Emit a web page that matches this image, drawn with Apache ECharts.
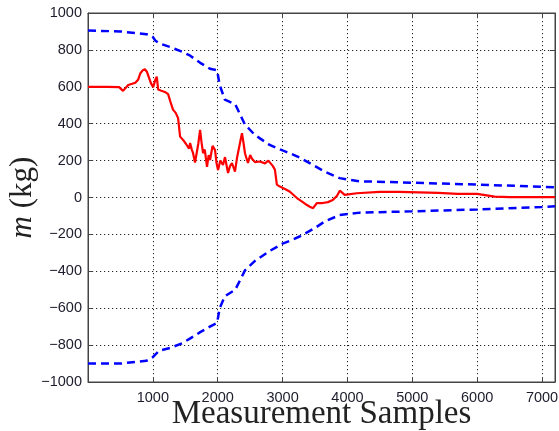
<!DOCTYPE html>
<html>
<head>
<meta charset="utf-8">
<script src="https://cdn.jsdelivr.net/npm/echarts@6/dist/echarts.min.js"></script>
<style>
html,body{margin:0;padding:0;background:#fff}
#Chart{width:559px;height:431px}
</style>
</head>
<body>
<div id="Chart"></div>
<script>
//红线 估计值
var redX=[0,300,480,540,620,730,775,805,840,877,910,940,970,1005,1040,1060,1082,1120,1185,1235,1270,1312,1350,1389,1420,1466,1490,1512,1558,1574,1600,1620,1650,1666,1700,1728,1750,1774,1800,1835,1860,1882,1920,1959,1980,2005,2040,2082,2112,2159,2190,2220,2266,2300,2340,2374,2400,2420,2466,2500,2528,2574,2650,2728,2780,2851,2882,2912,2959,3066,3113,3221,3267,3350,3420,3470,3528,3620,3700,3774,3840,3882,3958,4143,4497,4800,5100,5400,5700,6000,6270,6500,7200]
var redY=[600,600,598,578,610,622,640,672,688,695,680,650,620,598,640,655,585,580,572,560,520,475,460,430,330,312,322,290,265,295,260,240,190,200,290,366,300,240,260,166,230,203,280,257,190,149,200,176,219,133,170,187,140,220,290,349,290,240,187,230,210,192,195,185,200,170,150,70,59,41,31,-3,-14,-35,-50,-58,-30,-30,-25,-14,10,37,14,23,30,30,28,25,20,20,5,2,2]

//蓝色虚线 上下界
var boundX=[0,500,900,960,1000,1040,1100,1270,1450,1570,1730,1880,1990,2030,2110,2270,2420,2570,2800,3000,3110,3270,3500,3650,3880,4190,5000,6000,7000,7200]
var upperY=[905,900,885,880,870,850,835,815,790,770,730,698,690,610,530,505,395,340,285,255,240,215,170,140,105,88,80,70,58,55]
var lowerY=[-900,-900,-885,-875,-865,-850,-830,-815,-790,-765,-730,-700,-680,-600,-535,-500,-395,-345,-290,-250,-235,-210,-165,-130,-95,-82,-75,-65,-52,-48]

var yTicks=[-1000,-800,-600,-400,-200,0,200,400,600,800,1000]

function pairs(xs,ys){
    var out=[]
    for(var i=0;i<xs.length;i++){
        out.push([xs[i],ys[i]])
    }
    return out
}

function drawChar(){
    var myChart=echarts.init(document.getElementById('Chart'))
    var gridLine={show:true,lineStyle:{color:'#222',width:1,type:[1.2,2.8]}}
    var axisLine={show:true,onZero:false,lineStyle:{color:'#444',width:1}}
    var tickIn={show:true,inside:true,length:5,lineStyle:{color:'#444'}}
    var labelFont={fontFamily:'Liberation Sans',fontSize:14.5,color:'#1c1c2c'}
    var option={
        animation:false,
        grid:{left:88,top:13,right:4,bottom:49,outerBoundsMode:'none',containLabel:false,
            show:true,borderColor:'#444',borderWidth:1},
        xAxis:[{
            type:'value',min:0,max:7200,interval:1000,
            axisLine:axisLine,axisTick:tickIn,splitLine:gridLine,
            axisLabel:Object.assign({margin:8,showMinLabel:false,showMaxLabel:false,
                formatter:function(v){return String(v)}},labelFont),
            name:'Measurement Samples',nameLocation:'middle',nameGap:16,nameMoveOverlap:false,
            nameTextStyle:{fontFamily:'Liberation Serif',fontSize:33,color:'#222'}
        },{
            type:'value',position:'top',min:0,max:7200,interval:1000,
            axisLine:axisLine,axisTick:tickIn,splitLine:{show:false},axisLabel:{show:false}
        }],
        yAxis:[{
            type:'value',min:-1000,max:1000,interval:200,
            axisLine:axisLine,axisTick:tickIn,splitLine:gridLine,
            axisLabel:Object.assign({margin:6,formatter:function(v){
                return yTicks.indexOf(v)<0?'':String(v).replace('-','\u2212')
            }},labelFont),
            name:'{i|m}{n| (kg)}',nameLocation:'middle',nameGap:50,nameRotate:90,nameMoveOverlap:false,
            nameTextStyle:{
                color:'#222',
                rich:{
                    i:{fontFamily:'Liberation Serif',fontStyle:'italic',fontSize:31,color:'#222'},
                    n:{fontFamily:'Liberation Serif',fontSize:31,color:'#222'}
                }
            }
        },{
            type:'value',position:'right',min:-1000,max:1000,interval:200,
            axisLine:axisLine,axisTick:tickIn,splitLine:{show:false},axisLabel:{show:false}
        }],
        series:[{
            type:'line',data:pairs(boundX,upperY),showSymbol:false,symbol:'none',
            lineStyle:{color:'#0000ff',width:2.5,type:[8,5]}
        },{
            type:'line',data:pairs(boundX,lowerY),showSymbol:false,symbol:'none',
            lineStyle:{color:'#0000ff',width:2.5,type:[8,5]}
        },{
            type:'line',data:pairs(redX,redY),showSymbol:false,symbol:'none',
            lineStyle:{color:'#ff0000',width:2.2}
        }]
    }
    myChart.setOption(option)
}

drawChar()
</script>
</body>
</html>
